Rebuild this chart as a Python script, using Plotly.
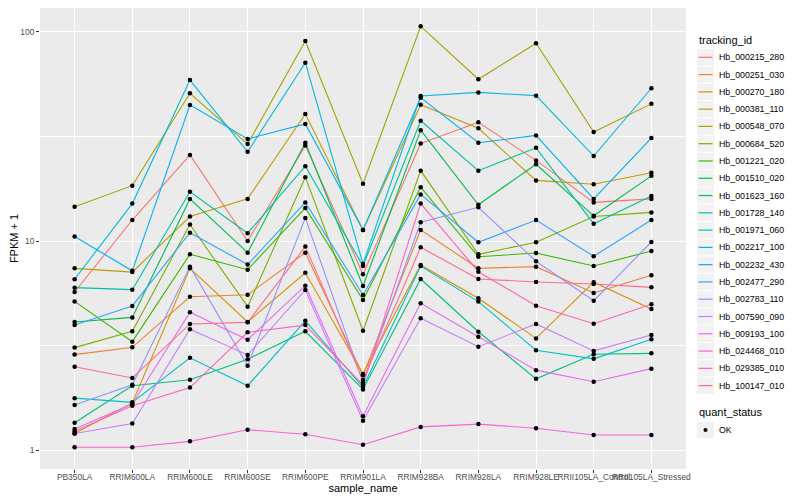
import plotly.graph_objects as go

sample_names = ["PB350LA", "RRIM600LA", "RRIM600LE", "RRIM600SE", "RRIM600PE", "RRIM901LA",
                "RRIM928BA", "RRIM928LA", "RRIM928LE", "RRII105LA_Control", "RRII105LA_Stressed"]

hb_000215_280 = [5.70, 12.6, 25.8, 10.0, 28.6, 6.93, 29.3, 37.0, 24.3, 15.3, 15.9]
hb_000251_030 = [2.86, 3.10, 5.41, 5.53, 8.79, 2.28, 11.3, 7.40, 7.54, 5.64, 6.85]
hb_000270_180 = [1.20, 1.68, 7.40, 4.10, 7.05, 2.31, 7.68, 5.32, 3.42, 6.35, 4.73]
hb_000381_110 = [7.40, 7.10, 13.1, 15.9, 40.5, 11.3, 44.9, 34.6, 19.5, 18.7, 21.2]
hb_000548_070 = [14.6, 18.4, 50.9, 29.1, 90.5, 18.8, 106.4, 59.4, 88.3, 33.2, 45.3]
hb_000684_520 = [3.09, 3.70, 12.0, 4.85, 20.2, 3.72, 21.7, 8.64, 9.86, 13.1, 13.7]
hb_001221_020 = [5.14, 3.30, 8.64, 7.29, 14.4, 5.22, 18.1, 8.41, 8.76, 7.59, 8.96]
hb_001510_020 = [4.10, 4.31, 15.9, 8.79, 29.5, 6.09, 33.9, 14.9, 23.3, 13.2, 20.5]
hb_001623_160 = [1.35, 2.03, 2.17, 2.72, 3.70, 1.95, 6.58, 3.68, 2.19, 2.87, 2.90]
hb_001728_140 = [5.98, 5.85, 17.2, 10.9, 22.8, 7.60, 37.6, 21.7, 27.9, 12.1, 16.4]
hb_001971_060 = [1.77, 1.69, 2.76, 2.03, 4.15, 2.00, 7.59, 5.13, 3.00, 2.73, 3.39]
hb_002217_100 = [6.56, 15.1, 58.9, 26.7, 71.3, 7.76, 49.4, 51.4, 49.6, 25.5, 53.8]
hb_002232_430 = [10.5, 7.20, 44.8, 30.8, 36.3, 11.3, 48.5, 29.5, 32.0, 15.9, 31.1]
hb_002477_290 = [3.96, 4.89, 10.96, 7.71, 15.3, 5.52, 16.7, 9.86, 12.6, 8.45, 12.6]
hb_002783_110 = [1.64, 2.05, 7.54, 2.53, 12.9, 2.10, 12.3, 14.5, 8.00, 5.18, 9.89]
hb_007590_090 = [1.20, 1.34, 3.78, 2.85, 5.83, 1.38, 4.27, 3.12, 4.01, 2.98, 3.55]
hb_009193_100 = [1.26, 1.66, 4.56, 3.37, 6.11, 1.45, 5.03, 3.48, 2.41, 2.12, 2.45]
hb_024468_010 = [1.03, 1.03, 1.10, 1.25, 1.19, 1.06, 1.29, 1.33, 1.27, 1.18, 1.18]
hb_029385_010 = [1.23, 1.63, 1.99, 3.66, 3.96, 2.05, 15.1, 7.13, 4.90, 4.02, 4.98]
hb_100147_010 = [2.50, 2.21, 4.01, 4.08, 9.40, 2.16, 9.33, 6.58, 6.37, 6.23, 6.00]

tracking_ids = ["Hb_000215_280", "Hb_000251_030", "Hb_000270_180", "Hb_000381_110", "Hb_000548_070",
                "Hb_000684_520", "Hb_001221_020", "Hb_001510_020", "Hb_001623_160", "Hb_001728_140",
                "Hb_001971_060", "Hb_002217_100", "Hb_002232_430", "Hb_002477_290", "Hb_002783_110",
                "Hb_007590_090", "Hb_009193_100", "Hb_024468_010", "Hb_029385_010", "Hb_100147_010"]
series_values = [hb_000215_280, hb_000251_030, hb_000270_180, hb_000381_110, hb_000548_070,
                 hb_000684_520, hb_001221_020, hb_001510_020, hb_001623_160, hb_001728_140,
                 hb_001971_060, hb_002217_100, hb_002232_430, hb_002477_290, hb_002783_110,
                 hb_007590_090, hb_009193_100, hb_024468_010, hb_029385_010, hb_100147_010]
quant_status = "OK"

colors = ["#F8766D", "#EA8331", "#D89000", "#C09B00", "#A3A500", "#7CAE00", "#39B600", "#00BB4E",
          "#00BF7D", "#00C1A3", "#00BFC4", "#00BAE0", "#00B0F6", "#35A2FF", "#9590FF", "#C77CFF",
          "#E76BF3", "#FA62DB", "#FF62BC", "#FF6C91"]

FONT = "Liberation Sans, Arial, sans-serif"
OFF = 8                      # the page body margin offsets the figure by 8px
W, H = 800 - OFF, 500 - OFF
ML, MR, MT, MB = 32, 114, 0, 31
PW, PH = W - ML - MR, H - MT - MB


def px(x_page):
    return (x_page - OFF - ML) / PW


def py(y_page):
    return (H - MB - (y_page - OFF)) / PH


fig = go.Figure()
for name, vals, col in zip(tracking_ids, series_values, colors):
    fig.add_trace(go.Scatter(x=sample_names, y=vals, mode="lines", name=name,
                             line=dict(color=col, width=1.1), showlegend=False))

all_x, all_y = [], []
for vals in series_values:
    all_x += sample_names
    all_y += vals
fig.add_trace(go.Scatter(x=all_x, y=all_y, mode="markers", name=quant_status,
                         marker=dict(color="black", size=4.5, symbol="circle"), showlegend=False))

# ggplot-style legends (keys + labels)
shapes, annots = [], []
KX0, KX1 = 697, 714
TX = 717
annots.append(dict(text="tracking_id", x=px(KX0), y=py(40), xref="paper", yref="paper",
                   xanchor="left", yanchor="middle", showarrow=False,
                   font=dict(size=11, color="#000", family=FONT)))
for i, (name, col) in enumerate(zip(tracking_ids, colors)):
    yc = 57.3 + i * 17.28
    shapes.append(dict(type="rect", xref="paper", yref="paper", x0=px(KX0), x1=px(KX1),
                       y0=py(yc - 8.1), y1=py(yc + 8.1), fillcolor="#F2F2F2", line=dict(width=0),
                       layer="above"))
    shapes.append(dict(type="line", xref="paper", yref="paper", x0=px(KX0 + 1.5), x1=px(KX1 - 1.5),
                       y0=py(yc), y1=py(yc), line=dict(color=col, width=1.2), layer="above"))
    annots.append(dict(text=name, x=px(TX), y=py(yc), xref="paper", yref="paper",
                       xanchor="left", yanchor="middle", showarrow=False,
                       font=dict(size=8.8, color="#000", family=FONT)))
annots.append(dict(text="quant_status", x=px(KX0), y=py(412), xref="paper", yref="paper",
                   xanchor="left", yanchor="middle", showarrow=False,
                   font=dict(size=11, color="#000", family=FONT)))
yc = 430
shapes.append(dict(type="rect", xref="paper", yref="paper", x0=px(KX0), x1=px(KX1),
                   y0=py(yc - 8.1), y1=py(yc + 8.1), fillcolor="#F2F2F2", line=dict(width=0),
                   layer="above"))
shapes.append(dict(type="circle", xref="paper", yref="paper", x0=px(703.5), x1=px(707.5),
                   y0=py(yc - 2), y1=py(yc + 2), fillcolor="black", line=dict(width=0),
                   layer="above"))
annots.append(dict(text=quant_status, x=px(TX), y=py(yc), xref="paper", yref="paper",
                   xanchor="left", yanchor="middle", showarrow=False,
                   font=dict(size=8.8, color="#000", family=FONT)))

fig.update_layout(
    width=W, height=H,
    margin=dict(l=ML, r=MR, t=MT, b=MB, autoexpand=False),
    paper_bgcolor="white", plot_bgcolor="#EBEBEB",
    font=dict(family=FONT, color="#000000"),
    showlegend=False,
    shapes=shapes, annotations=annots,
)
fig.update_xaxes(type="category", range=[-0.6, 10.6], showgrid=True, gridcolor="white", gridwidth=1.1,
                 zeroline=False, showline=False, ticks="outside", ticklen=3, tickcolor="#333333",
                 tickangle=0, automargin=False, ticklabelstandoff=-3,
                 tickfont=dict(size=8.4, color="#4D4D4D"),
                 title=dict(text="sample_name", font=dict(size=11, color="#000"), standoff=3))
fig.update_yaxes(type="log", range=[-0.0909, 2.1148], tickvals=[1, 10, 100], ticktext=["1", "10", "100"],
                 showgrid=True, gridcolor="white", gridwidth=1.1, zeroline=False, showline=False,
                 ticks="outside", ticklen=3, tickcolor="#333333", automargin=False,
                 tickfont=dict(size=8.4, color="#4D4D4D"),
                 minor=dict(tickvals=[10 ** 0.5, 10 ** 1.5], showgrid=True, gridcolor="white",
                            gridwidth=0.55, ticks=""),
                 title=dict(text="FPKM + 1", font=dict(size=11, color="#000"), standoff=0))

fig.write_html("out.html")
